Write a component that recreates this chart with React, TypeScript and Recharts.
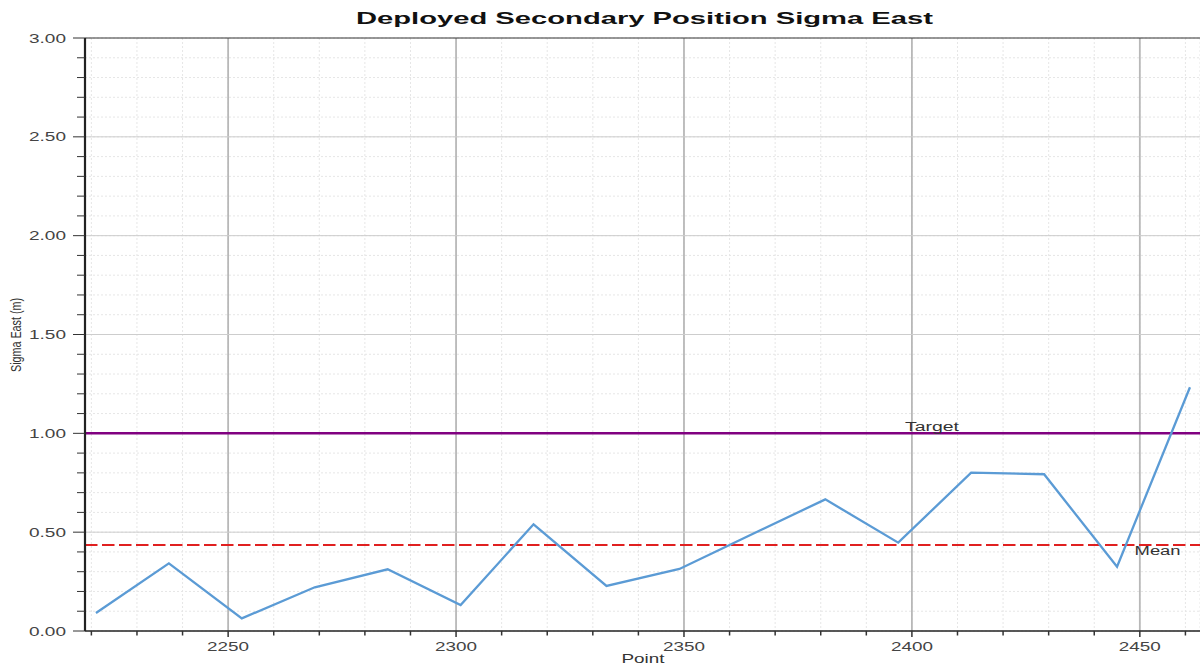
import React from 'react';
import { LineChart, Line, XAxis, YAxis, CartesianGrid, ReferenceLine, ReferenceDot } from 'recharts';

const points = [2221, 2237, 2253, 2269, 2285, 2301, 2317, 2333, 2349, 2381, 2397, 2413, 2429, 2445, 2461];
const sigmaEast = [0.091, 0.342, 0.064, 0.221, 0.312, 0.131, 0.540, 0.228, 0.314, 0.666, 0.447, 0.801, 0.793, 0.325, 1.233];
const targetValue = 1.0;
const meanValue = 0.435;
const xTicks = [2220, 2230, 2240, 2250, 2260, 2270, 2280, 2290, 2300, 2310, 2320, 2330, 2340, 2350, 2360, 2370, 2380, 2390, 2400, 2410, 2420, 2430, 2440, 2450, 2460];
const xMajorTicks = [2250, 2300, 2350, 2400, 2450];
const yTicks = [0, 0.1, 0.2, 0.3, 0.4, 0.5, 0.6, 0.7, 0.8, 0.9, 1.0, 1.1, 1.2, 1.3, 1.4, 1.5, 1.6, 1.7, 1.8, 1.9, 2.0, 2.1, 2.2, 2.3, 2.4, 2.5, 2.6, 2.7, 2.8, 2.9, 3.0];
const yMajorTicks = [0.5, 1.5, 2.0, 2.5];
const xDomain = [2218.6, 2463.2];
const yDomain = [0, 3];
const titleText = 'Deployed Secondary Position Sigma East';
const xLabelText = 'Point';
const yLabelText = 'Sigma East (m)';
const targetLabel = 'Target';
const meanLabel = 'Mean';
const targetLabelAt = 2404.4;
const meanLabelAt = 2453.9;

const data = points.map((p, i) => ({ point: p, sigma: sigmaEast[i] }));

const FONT = '"Liberation Sans", Arial, sans-serif';

const isMajorY = (v: number) => Math.abs(v * 2 - Math.round(v * 2)) < 1e-6;
const isMajorX = (v: number) => Math.abs(v / 50 - Math.round(v / 50)) < 1e-6;

const YTick = (props: any) => {
  const { x, y, payload } = props;
  const v = payload.value as number;
  const major = isMajorY(v);
  return (
    <g>
      <line x1={x - (major ? 12 : 8)} x2={x} y1={y} y2={y} stroke="#333" strokeWidth={1} />
      {major && (
        <text x={x - 56} y={y + 4.5} textLength={37} lengthAdjust="spacingAndGlyphs" fontSize={12.5} fill="#444" fontFamily={FONT}>
          {v.toFixed(2)}
        </text>
      )}
    </g>
  );
};

const XTick = (props: any) => {
  const { x, y, payload } = props;
  const v = payload.value as number;
  const major = isMajorX(v);
  return (
    <g>
      <line x1={x} x2={x} y1={y} y2={y + (major ? 6 : 4.5)} stroke="#333" strokeWidth={1.5} />
      {major && (
        <text x={x - 21} y={y + 20} textLength={42} lengthAdjust="spacingAndGlyphs" fontSize={12.5} fill="#444" fontFamily={FONT}>
          {String(v)}
        </text>
      )}
    </g>
  );
};

const makeLabel = (text: string, len: number, dy: number) => (props: any) => {
  const vb = props.viewBox || {};
  const cx = (vb.x ?? 0) + (vb.width ?? 0) / 2;
  const cy = (vb.y ?? 0) + (vb.height ?? 0) / 2;
  return (
    <text x={cx - len / 2} y={cy + dy} textLength={len} lengthAdjust="spacingAndGlyphs" fontSize={12} fill="#333" fontFamily={FONT}>
      {text}
    </text>
  );
};

export default function App() {
  return (
    <div style={{ position: 'absolute', left: 0, top: 0, width: 1200, height: 667, background: '#fff', overflow: 'hidden' }}>
      <LineChart width={1200} height={667} data={data} margin={{ top: 38, right: 0, left: 0, bottom: 0 }}>
        <CartesianGrid stroke="#e6e6e6" strokeDasharray="2 2" strokeWidth={1} />
        {xMajorTicks.map((v) => (
          <ReferenceLine key={'vx' + v} x={v} stroke="#b8b8b8" strokeWidth={1.8} />
        ))}
        {yMajorTicks.map((v) => (
          <ReferenceLine key={'hy' + v} y={v} stroke="#cdcdcd" strokeWidth={1} />
        ))}
        <ReferenceLine y={3} stroke="#333" strokeWidth={1} />
        <XAxis
          dataKey="point"
          type="number"
          domain={xDomain}
          allowDataOverflow
          ticks={xTicks}
          interval={0}
          height={36}
          tickSize={0}
          tickMargin={0}
          tickLine={false}
          tick={<XTick />}
          axisLine={{ stroke: '#222', strokeWidth: 1.5 }}
        />
        <YAxis
          type="number"
          domain={yDomain}
          allowDataOverflow
          ticks={yTicks}
          interval={0}
          width={85}
          tickSize={0}
          tickMargin={0}
          tickLine={false}
          tick={<YTick />}
          axisLine={{ stroke: '#222', strokeWidth: 2.2 }}
        />
        <ReferenceLine y={meanValue} stroke="#e02020" strokeWidth={2} strokeDasharray="12.5 4.5" />
        <ReferenceLine y={targetValue} stroke="#800080" strokeWidth={2.5} />
        <Line type="linear" dataKey="sigma" stroke="#5b9bd5" strokeWidth={2.3} dot={false} isAnimationActive={false} />
        <ReferenceDot x={targetLabelAt} y={targetValue} r={0} fill="none" stroke="none" label={{ content: makeLabel(targetLabel, 54, -2.5) }} />
        <ReferenceDot x={meanLabelAt} y={meanValue} r={0} fill="none" stroke="none" label={{ content: makeLabel(meanLabel, 46, 10) }} />
      </LineChart>
      <svg width={1200} height={667} style={{ position: 'absolute', left: 0, top: 0, pointerEvents: 'none' }}>
        <text x={356} y={23.5} textLength={577} lengthAdjust="spacingAndGlyphs" fontSize={16.5} fontWeight="bold" fill="#111" fontFamily={FONT}>
          {titleText}
        </text>
        <text x={643 - 21.5} y={663} textLength={43} lengthAdjust="spacingAndGlyphs" fontSize={12} fill="#333" fontFamily={FONT}>
          {xLabelText}
        </text>
        <g transform="translate(21,335) scale(1.47,1) rotate(-90)">
          <text x={0} y={0} textAnchor="middle" textLength={74} lengthAdjust="spacingAndGlyphs" fontSize={10.5} fill="#333" fontFamily={FONT}>
            {yLabelText}
          </text>
        </g>
      </svg>
    </div>
  );
}
